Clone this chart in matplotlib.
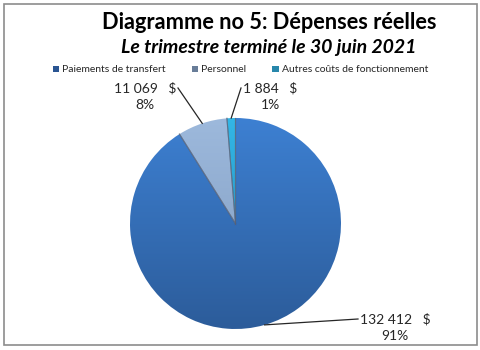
import numpy as np
import matplotlib.pyplot as plt
from matplotlib.colors import LinearSegmentedColormap
from matplotlib.patches import Patch, Rectangle

# Dépenses réelles, trimestre terminé le 30 juin 2021
categories = ['Paiements de transfert', 'Personnel', 'Autres coûts de fonctionnement']
values = [132412, 11069, 1884]

# top / bottom colours of each slice gradient, and legend swatch colours
slice_light = ['#3d80d2', '#9db9dc', '#33b6e6']
slice_dark = ['#2c5c9a', '#7f9bc0', '#1e88b4']
legend_colors = ['#2a5592', '#687d98', '#2887ab']

plt.rcParams['font.family'] = ['Lato', 'DejaVu Sans']

W, H = 481, 350
fig = plt.figure(figsize=(W / 100, H / 100), dpi=100)
ax = fig.add_axes([0, 0, 1, 1])

# chart frame
ax.add_patch(Rectangle((4, 5), 473, 341, fill=False, edgecolor='#8c8c8c', lw=1.2))

cx, cy, r = 235.5, 126.5, 105.5
wedges, _ = ax.pie(values, startangle=90, counterclock=False,
                   center=(cx, cy), radius=r, frame=True,
                   wedgeprops=dict(linewidth=0))
ax.set_xlim(0, W)
ax.set_ylim(0, H)
ax.set_aspect('equal')
ax.axis('off')

# vertical gradient inside each wedge
grad = np.linspace(0, 1, 256).reshape(-1, 1)
for w, c1, c2 in zip(wedges, slice_light, slice_dark):
    cmap = LinearSegmentedColormap.from_list('g', [c2, c1])
    w.set_facecolor('none')
    im = ax.imshow(grad, cmap=cmap, origin='lower', aspect='auto',
                   extent=(cx - r, cx + r, cy - r, cy + r), zorder=1)
    im.set_clip_path(w)

# thin shaded seam between slices
for w in wedges:
    for ang in (w.theta1, w.theta2):
        a = np.radians(ang)
        ax.plot([cx, cx + r * np.cos(a)], [cy, cy + r * np.sin(a)],
                color='#55627a', lw=0.8, alpha=0.6, zorder=2)

total = sum(values)
# label anchor (x, y, ha) in pixels for each slice
label_pos = [(358, 31, 'left'), (178, 262, 'right'), (241, 262, 'left')]
for w, v, (tx, ty, ha) in zip(wedges, values, label_pos):
    mid = np.radians((w.theta1 + w.theta2) / 2)
    ex, ey = cx + r * np.cos(mid), cy + r * np.sin(mid)
    ax.plot([ex, tx], [ey, ty], color='#262626', lw=0.9, zorder=3)
    amount = f'{v:,}'.replace(',', ' ') + '   $'
    pct = f'{round(v / total * 100)}%'
    t = ax.text(tx + (2 if ha == 'left' else -2), ty, amount, ha=ha, va='center',
                fontsize=10, color='#262626')
    fig.canvas.draw()
    bb = t.get_window_extent().transformed(ax.transData.inverted())
    ax.text((bb.x0 + bb.x1) / 2, ty - 17, pct, ha='center', va='center',
            fontsize=10, color='#262626')

fig.text(0.56, 0.935, 'Diagramme no 5: Dépenses réelles', ha='center', va='center',
         fontsize=15.7, fontweight='bold', color='black')
fig.text(0.559, 0.865, 'Le trimestre terminé le 30 juin 2021', ha='center', va='center',
         fontsize=14, fontweight='bold', fontstyle='italic', color='black')

handles = [Patch(facecolor=c, edgecolor='none') for c in legend_colors]
fig.legend(handles, categories, loc='center', bbox_to_anchor=(0.5, 0.80),
           ncol=3, frameon=False, fontsize=7.5, handlelength=0.6, handleheight=0.6,
           handletextpad=0.3, columnspacing=2.5, labelcolor='#262626')

fig.savefig('out.png', dpi=100)
